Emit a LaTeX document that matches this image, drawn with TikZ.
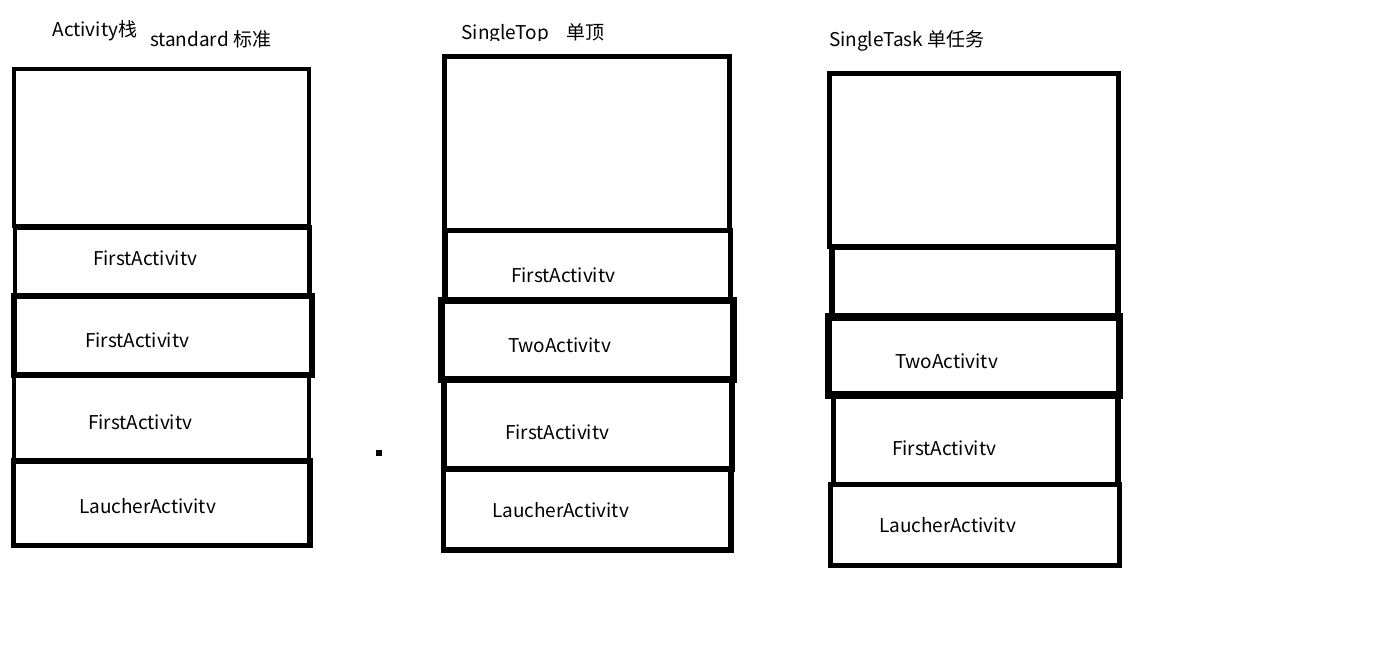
\documentclass[tikz,border=0pt]{standalone}
\usepackage{fontspec}
\setmainfont{Noto Sans CJK SC}
\tikzset{
  cell/.style={draw=black, rectangle, inner sep=0pt, outer sep=0pt},
  lbl/.style={inner sep=0pt, outer sep=0pt, anchor=base west, font=\fontsize{19}{21}\selectfont},
}
\newcommand\mkcell[6]{\node[cell, line width=#6pt, minimum width={(#4-#2)*1pt}, minimum height={(#5-#3)*1pt}] (#1) at ({(#2+#4)/2},{(#3+#5)/2}) {};}
\begin{document}
\begin{tikzpicture}[x=1pt,y=-1pt]
\useasboundingbox[fill=white] (0,0) rectangle (1397,658);
% stack 1
\mkcell{aT}{14}{69}{309}{226}{4.5}
\mkcell{aF}{15}{227.5}{309.5}{296}{4.5}
\mkcell{aG}{14}{296}{312}{375}{5.5}
\mkcell{aH}{14}{376}{309}{460}{4.5}
\mkcell{aL}{13.5}{461}{310}{545.5}{5.5}
% stack 2
\mkcell{bT}{444}{57}{729.5}{230.5}{5}
\mkcell{bF}{445}{230.5}{730.5}{300.5}{5.5}
\mkcell{bW}{441.5}{300.5}{733.5}{379}{7}
\mkcell{bG}{443.5}{379}{731.5}{469}{6}
\mkcell{bL}{443.5}{469}{731}{550}{5.5}
% stack 3
\mkcell{cT}{829.5}{73.5}{1118}{246.5}{5}
\mkcell{cE}{832}{246.5}{1118}{316}{6}
\mkcell{cW}{828.5}{317}{1119.5}{395}{7.5}
\mkcell{cF}{833.5}{395}{1118}{484.5}{5.5}
\mkcell{cL}{830}{484.5}{1119}{565.5}{5}
% dot
\node[fill=black, inner sep=0pt, minimum size=6pt] (dot) at (379,453) {};
% titles
\node[lbl] (h1) at (52.5,36.7) {Activity栈};
\node[lbl] (h2) at (150,46.7) {standard 标准};
\begin{scope}
\clip (450,0) rectangle (620,40.4);
\node[lbl] (h3) at (461.5,40) {SingleTop\hspace{0.9em}单顶};
\end{scope}
\node[lbl] (h4) at (829,46.7) {SingleTask 单任务};
% labels stack 1
\node[lbl] (a1) at (93,265) {FirstActivitv};
\node[lbl] (a2) at (85,347) {FirstActivitv};
\node[lbl] (a3) at (88,429) {FirstActivitv};
\node[lbl] (a4) at (79,513) {LaucherActivitv};
% labels stack 2
\node[lbl] (b1) at (511,282.7) {FirstActivitv};
\node[lbl] (b2) at (508,352.7) {TwoActivitv};
\node[lbl] (b3) at (505,439) {FirstActivitv};
\node[lbl] (b4) at (492,517) {LaucherActivitv};
% labels stack 3
\node[lbl] (c1) at (895,368) {TwoActivitv};
\node[lbl] (c2) at (892,455) {FirstActivitv};
\node[lbl] (c3) at (879,532.7) {LaucherActivitv};
\end{tikzpicture}
\end{document}
